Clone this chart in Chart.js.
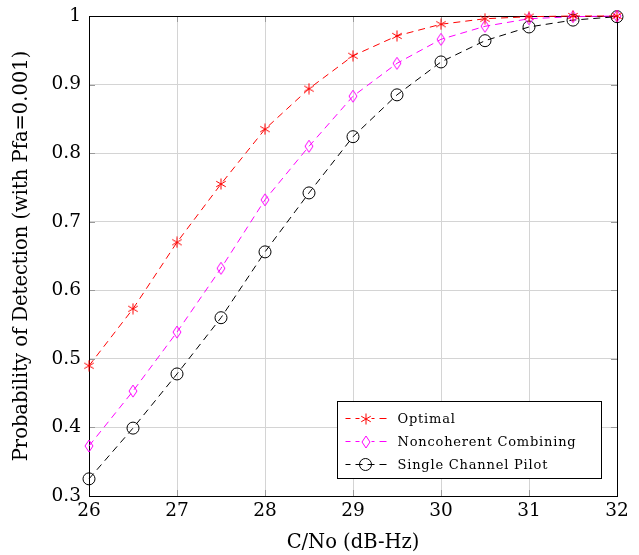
<!DOCTYPE html>
<html>
<head>
<meta charset="utf-8">
<script src="https://cdn.jsdelivr.net/npm/chart.js@4"></script>
<style>
html, body { margin: 0; padding: 0; background: #fff; }
</style>
</head>
<body>
<canvas id="pd-chart" width="639" height="555"></canvas>
<script>
// C/No in dB-Hz
const cno = [26, 26.5, 27, 27.5, 28, 28.5, 29, 29.5, 30, 30.5, 31, 31.5, 32];
const optimal = [0.490, 0.573, 0.670, 0.755, 0.835, 0.894, 0.942, 0.971, 0.988, 0.996, 0.999, 1.000, 1.000];
const noncoherent = [0.373, 0.453, 0.539, 0.632, 0.732, 0.810, 0.883, 0.931, 0.966, 0.985, 0.996, 0.999, 1.000];
const singlePilot = [0.325, 0.399, 0.478, 0.560, 0.656, 0.742, 0.824, 0.885, 0.933, 0.964, 0.984, 0.994, 0.999];
const xTicks = [26, 27, 28, 29, 30, 31, 32];
const yTicks = [0.3, 0.4, 0.5, 0.6, 0.7, 0.8, 0.9, 1];

const serif = "'DejaVu Serif', 'Liberation Serif', serif";

function asterisk(color) {
    const c = document.createElement('canvas');
    c.width = 12; c.height = 12;
    const g = c.getContext('2d');
    g.strokeStyle = color;
    g.lineWidth = 1;
    g.beginPath();
    for (let k = 0; k < 3; k++) {
        const a = Math.PI / 2 + k * Math.PI / 3;
        g.moveTo(6 + 5.5 * Math.cos(a), 6 + 5.5 * Math.sin(a));
        g.lineTo(6 - 5.5 * Math.cos(a), 6 - 5.5 * Math.sin(a));
    }
    g.stroke();
    return c;
}

function diamond(color) {
    const c = document.createElement('canvas');
    c.width = 10; c.height = 14;
    const g = c.getContext('2d');
    g.strokeStyle = color;
    g.lineWidth = 1;
    g.beginPath();
    g.moveTo(5, 1);
    g.lineTo(9, 7);
    g.lineTo(5, 13);
    g.lineTo(1, 7);
    g.closePath();
    g.stroke();
    return c;
}

const series = [
    { label: 'Optimal', values: optimal, color: '#ff0000', marker: asterisk('#ff0000') },
    { label: 'Noncoherent Combining', values: noncoherent, color: '#ff00ff', marker: diamond('#ff00ff') },
    { label: 'Single Channel Pilot', values: singlePilot, color: '#000000', marker: 'circle' }
];

const dash = [7, 5];

// pgfplots-like frame with inward ticks
const framePlugin = {
    id: 'frame',
    beforeDatasetsDraw(chart) {
        const ctx = chart.ctx;
        const a = chart.chartArea;
        const xs = chart.scales.x, ys = chart.scales.y;
        ctx.save();
        ctx.strokeStyle = '#9a9a9a';
        ctx.lineWidth = 1;
        ctx.beginPath();
        xTicks.forEach(v => {
            const px = Math.round(xs.getPixelForValue(v)) + 0.5;
            ctx.moveTo(px, a.bottom); ctx.lineTo(px, a.bottom - 6);
            ctx.moveTo(px, a.top); ctx.lineTo(px, a.top + 6);
        });
        yTicks.forEach(v => {
            const py = Math.round(ys.getPixelForValue(v)) + 0.5;
            ctx.moveTo(a.left, py); ctx.lineTo(a.left + 6, py);
            ctx.moveTo(a.right, py); ctx.lineTo(a.right - 6, py);
        });
        ctx.stroke();
        ctx.strokeStyle = '#000';
        ctx.strokeRect(Math.round(a.left) + 0.5, Math.round(a.top) + 0.5,
            Math.round(a.right - a.left), Math.round(a.bottom - a.top));
        ctx.restore();
    }
};

// legend box in the lower right corner of the plot
const legendPlugin = {
    id: 'boxLegend',
    afterDraw(chart) {
        const ctx = chart.ctx;
        const a = chart.chartArea;
        const w = 264, h = 77;
        const x0 = Math.round(a.right - 16 - w) + 0.5;
        const y0 = Math.round(a.bottom - 18 - h) + 0.5;
        ctx.save();
        ctx.fillStyle = '#fff';
        ctx.fillRect(x0, y0, w, h);
        ctx.strokeStyle = '#000';
        ctx.lineWidth = 1;
        ctx.strokeRect(x0, y0, w, h);
        ctx.font = '13px ' + serif;
        ctx.textBaseline = 'middle';
        ctx.letterSpacing = '0.8px';
        series.forEach((s, i) => {
            const cy = Math.round(y0 + 16 + i * 23) + 0.5;
            const mx = x0 + 28;
            ctx.strokeStyle = s.color;
            ctx.setLineDash(dash);
            ctx.lineDashOffset = 2;
            ctx.beginPath();
            ctx.moveTo(x0 + 8, cy);
            ctx.lineTo(x0 + 49, cy);
            ctx.stroke();
            ctx.setLineDash([]);
            if (s.marker === 'circle') {
                ctx.beginPath();
                ctx.arc(mx, cy, 6, 0, Math.PI * 2);
                ctx.stroke();
            } else {
                ctx.fillStyle = '#fff';
                ctx.fillRect(mx - 6, cy - 6, 12, 12);
                ctx.drawImage(s.marker, Math.round(mx - s.marker.width / 2), Math.round(cy - s.marker.height / 2));
            }
            ctx.fillStyle = '#000';
            ctx.fillText(s.label, x0 + 60, cy + 1);
        });
        ctx.restore();
    }
};

const ctx = document.getElementById('pd-chart').getContext('2d');
const pdChart = new Chart(ctx, {
    type: 'line',
    data: {
        datasets: series.map(s => ({
            label: s.label,
            data: cno.map((x, i) => ({ x: x, y: s.values[i] })),
            borderColor: s.color,
            backgroundColor: 'transparent',
            borderWidth: 1,
            borderDash: dash,
            pointStyle: s.marker,
            pointRadius: 6,
            pointHoverRadius: 6,
            pointBorderWidth: 1,
            tension: 0,
            fill: false,
            clip: false
        }))
    },
    options: {
        responsive: false,
        animation: false,
        devicePixelRatio: 1,
        layout: { padding: { top: 16, right: 22, left: 0, bottom: 0 } },
        plugins: {
            legend: { display: false },
            tooltip: { enabled: false },
            title: { display: false }
        },
        scales: {
            x: {
                type: 'linear',
                min: 26,
                max: 32,
                afterBuildTicks: scale => { scale.ticks = xTicks.map(v => ({ value: v })); },
                afterFit: scale => {
                    scale.height = 59;
                    scale.paddingLeft = 0;
                    scale.paddingRight = 0;
                },
                grid: { color: '#d4d4d4', drawTicks: false },
                border: { display: false },
                ticks: {
                    color: '#000',
                    padding: 4,
                    maxRotation: 0,
                    font: { family: serif, size: 18.5 },
                    callback: v => String(v)
                },
                title: {
                    display: true,
                    text: 'C/No (dB-Hz)',
                    color: '#000',
                    font: { family: serif, size: 19.5 },
                    padding: { top: 0, bottom: 0 }
                }
            },
            y: {
                min: 0.3,
                max: 1,
                afterBuildTicks: scale => { scale.ticks = yTicks.map(v => ({ value: v })); },
                afterFit: scale => {
                    scale.width = 89;
                    scale.paddingTop = 0;
                    scale.paddingBottom = 0;
                },
                grid: { color: '#d4d4d4', drawTicks: false },
                border: { display: false },
                ticks: {
                    color: '#000',
                    padding: 8,
                    font: { family: serif, size: 18.5 },
                    callback: v => (Math.abs(v - 1) < 1e-9 ? '1' : v.toFixed(1))
                },
                title: {
                    display: true,
                    text: 'Probability of Detection (with Pfa=0.001)',
                    color: '#000',
                    font: { family: serif, size: 19.5 },
                    padding: { top: 10, bottom: 0 }
                }
            }
        }
    },
    plugins: [framePlugin, legendPlugin]
});
</script>
</body>
</html>
